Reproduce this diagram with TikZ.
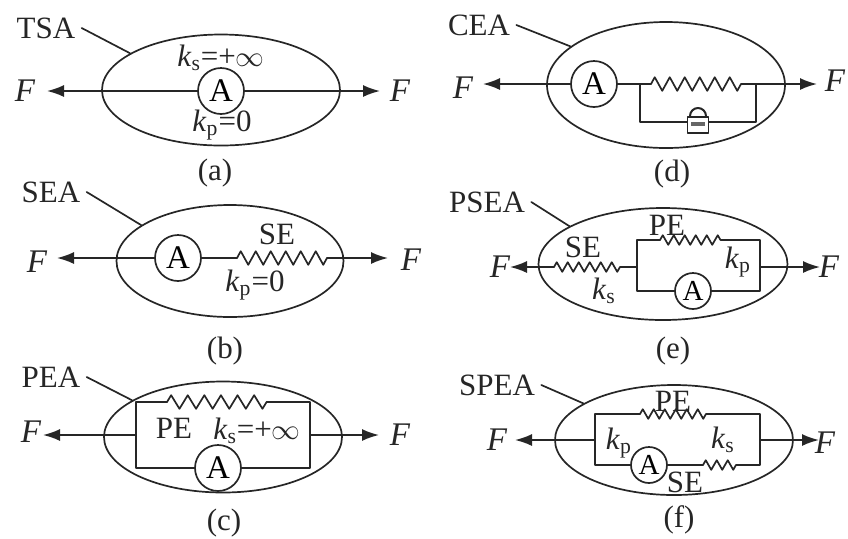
\documentclass[tikz,border=0pt]{standalone}
\usepackage{fontspec}
\setmainfont{Liberation Serif}
\usetikzlibrary{arrows.meta,shapes.geometric,decorations.pathmorphing}

\newcommand{\kval}[2]{\textit{k}\textsubscript{#1}#2}

\begin{document}
\begin{tikzpicture}[x=0.5pt,y=-0.5pt, line cap=round, line join=round,
    wire/.style={black!85, line width=0.85pt},
    force/.style={wire, -{Latex[length=8.5pt,width=6pt]}},
    spring/.style={wire, decorate, decoration={zigzag,amplitude=3.4pt,segment length=7.5pt}},
    shortspring/.style={wire, decorate, decoration={zigzag,amplitude=2.4pt,segment length=5.5pt}},
    actuator/.style={circle, draw=black!85, line width=0.85pt, inner sep=0pt, minimum size=23pt, font=\fontsize{16.5}{16}\selectfont},
    smallactuator/.style={actuator, minimum size=18pt, font=\fontsize{14.5}{14}\selectfont},
    txt/.style={inner sep=1pt, black!85, font=\fontsize{15.5}{15}\selectfont},
    forcetxt/.style={txt, font=\fontsize{16.5}{16}\selectfont}]
    \useasboundingbox (0,0) rectangle (848,538);

    % Ellipses
    \foreach \name/\x/\y/\w/\h in {ea/221/90/238/111, eb/230/261/227/112, ec/223/437/238/111,
                                   ed/666/85/238/126, ee/663/264/249/112, ef/674/440/238/110}{
        \node[ellipse, draw=black!85, line width=0.85pt, inner sep=0pt,
              minimum width=\w*0.5pt, minimum height=\h*0.5pt] (\name) at (\x,\y) {};
    }

    % Type names and leaders
    \foreach \name/\txt/\x/\y/\e in {la/TSA/46/28/ea, lb/SEA/51/192/eb, lc/PEA/51/377/ec,
                                     ld/CEA/479/25/ed, le/PSEA/487/202/ee, lf/SPEA/497/385/ef}{
        \node[txt, inner sep=3pt] (\name) at (\x,\y) {\txt};
        \draw[wire] (\name.east) -- (\e.158);
    }

    % Captions
    \foreach \name/\txt/\x/\y in {capa/a/215/173, capb/b/225/351, capc/c/224/523,
                                  capd/d/672/174, cape/e/673/351, capf/f/679/520}{
        \node[txt] (\name) at (\x,\y) {(\txt)};
    }

    % Forces
    \foreach \name/\x/\y in {fal/25/91, far/400/91, fbl/37/262, fbr/411/260, fcl/31/432, fcr/400/435,
                             fdl/463/88, fdr/835/81, fel/500/267, fer/829/267, ffl/497/440, ffr/825/443}{
        \node[forcetxt] (\name) at (\x,\y) {\textit{F}};
    }

    % (a) TSA
    \node[actuator] (Aa) at (221,91) {A};
    \coordinate (tal) at (47,91);
    \coordinate (tar) at (380,91);
    \draw[force] (Aa) -- (tal);
    \draw[force] (Aa) -- (tar);
    \node[txt] (ksa) at (221,58) {\kval{s}{=+$\infty$}};
    \node[txt] (kpa) at (222,125) {\kval{p}{=0}};

    % (b) SEA
    \node[actuator] (Ab) at (178,258) {A};
    \coordinate (tbl) at (57,258);
    \coordinate (tbr) at (388,258);
    \coordinate (sb1) at (237,258);
    \coordinate (sb2) at (327,258);
    \draw[force] (Ab) -- (tbl);
    \draw[wire] (Ab) -- (sb1);
    \draw[spring] (sb1) -- (sb2);
    \draw[force] (sb2) -- (tbr);
    \node[txt] (seb) at (277,234) {SE};
    \node[txt] (kpb) at (255,285) {\kval{p}{=0}};

    % (c) PEA
    \node[actuator] (Ac) at (218,468) {A};
    \coordinate (jcl) at (136,435);
    \coordinate (jcr) at (310,435);
    \coordinate (tl1) at (136,402);
    \coordinate (tr1) at (310,402);
    \coordinate (bl1) at (136,468);
    \coordinate (br1) at (310,468);
    \coordinate (sc1) at (167,402);
    \coordinate (sc2) at (267,402);
    \coordinate (tcl) at (43,435);
    \coordinate (tcr) at (379,435);
    \draw[force] (jcl) -- (tcl);
    \draw[force] (jcr) -- (tcr);
    \draw[wire] (sc1) -- (tl1) -- (bl1) -- (Ac);
    \draw[wire] (sc2) -- (tr1) -- (br1) -- (Ac);
    \draw[spring, decoration={segment length=8.3pt}] (sc1) -- (sc2);
    \node[txt] (pec) at (174,428) {PE};
    \node[txt] (ksc) at (257,431) {\kval{s}{=+$\infty$}};

    % (d) CEA
    \node[actuator] (Ad) at (594,84) {A};
    \coordinate (tdl) at (483,84);
    \coordinate (tdr) at (817,84);
    \coordinate (jdl) at (640,84);
    \coordinate (jdr) at (756,84);
    \coordinate (sd1) at (651,84);
    \coordinate (sd2) at (742,84);
    \coordinate (bd1) at (640,122);
    \coordinate (bd2) at (756,122);
    \draw[force] (Ad) -- (tdl);
    \draw[wire] (Ad) -- (sd1);
    \draw[spring] (sd1) -- (sd2);
    \draw[force] (sd2) -- (tdr);
    \draw[wire] (jdl) -- (bd1) -- (bd2) -- (jdr);
    % Lock
    \draw[wire, line width=1pt] (690,116) arc[start angle=180, end angle=0, x radius=8, y radius=-8];
    \node[rectangle, draw=black!85, fill=white, line width=0.75pt, inner sep=0pt,
          minimum width=10.5pt, minimum height=8pt] (lock) at (698,125) {};
    \fill[black!60] (691,122) rectangle (705,126);

    % (e) PSEA
    \node[smallactuator] (Ae) at (693,291) {A};
    \coordinate (tel) at (510,267);
    \coordinate (ter) at (820,267);
    \coordinate (se1) at (554,267);
    \coordinate (se2) at (624,267);
    \coordinate (jel) at (637,267);
    \coordinate (jer) at (760,267);
    \coordinate (tl2) at (637,240);
    \coordinate (tr2) at (760,240);
    \coordinate (bl2) at (637,291);
    \coordinate (br2) at (760,291);
    \coordinate (se3) at (660,240);
    \coordinate (se4) at (725,240);
    \draw[force] (se1) -- (tel);
    \draw[shortspring] (se1) -- (se2);
    \draw[wire] (se2) -- (jel);
    \draw[wire] (se3) -- (tl2) -- (bl2) -- (Ae);
    \draw[wire] (se4) -- (tr2) -- (br2) -- (Ae);
    \draw[shortspring] (se3) -- (se4);
    \draw[force] (jer) -- (ter);
    \node[txt] (see) at (583,247) {SE};
    \node[txt] (pee) at (667,225) {PE};
    \node[txt] (kpe) at (738,262) {\kval{p}{}};
    \node[txt] (kse) at (604,291) {\kval{s}{}};

    % (f) SPEA
    \node[smallactuator] (Af) at (649,465) {A};
    \coordinate (tfl) at (515,440);
    \coordinate (tfr) at (819,440);
    \coordinate (jfl) at (595,440);
    \coordinate (jfr) at (760,440);
    \coordinate (tl3) at (595,414);
    \coordinate (tr3) at (760,414);
    \coordinate (bl3) at (595,465);
    \coordinate (br3) at (760,465);
    \coordinate (sf1) at (640,414);
    \coordinate (sf2) at (710,414);
    \coordinate (sf3) at (703,465);
    \coordinate (sf4) at (737,465);
    \draw[force] (jfl) -- (tfl);
    \draw[force] (jfr) -- (tfr);
    \draw[wire] (sf1) -- (tl3) -- (bl3) -- (Af);
    \draw[wire] (sf2) -- (tr3) -- (br3) -- (sf4);
    \draw[wire] (Af) -- (sf3);
    \draw[shortspring] (sf1) -- (sf2);
    \draw[shortspring] (sf3) -- (sf4);
    \node[txt] (pef) at (673,401) {PE};
    \node[txt] (kpf) at (619,443) {\kval{p}{}};
    \node[txt] (ksf) at (723,440) {\kval{s}{}};
    \node[txt] (sef) at (685,482) {SE};
\end{tikzpicture}
\end{document}
